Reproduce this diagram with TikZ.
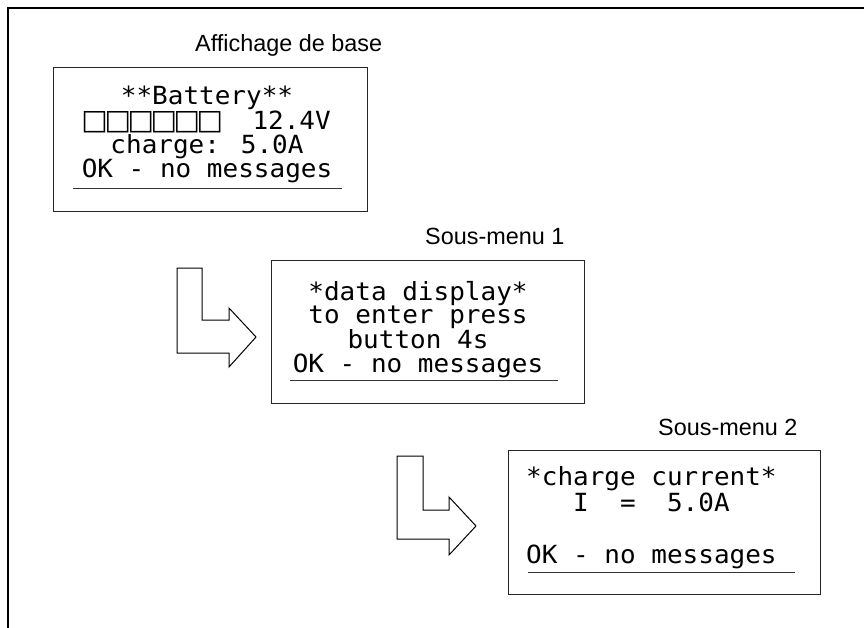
\documentclass[tikz,border=0pt]{standalone}
\usepackage{fontspec}
\setmainfont{Liberation Sans}
\newfontfamily\lcdfont[FakeStretch=1.04]{DejaVu Sans Mono}
\newfontfamily\symfont{DejaVu Sans}
\newcommand{\sqbox}{\makebox[23pt][c]{\symfont\fontsize{28}{28}\selectfont □}}
\tikzset{
  lcd/.style={font=\lcdfont\fontsize{25}{#1}\selectfont, inner sep=0pt},
  lbl/.style={font=\fontsize{23.4}{24}\selectfont, inner sep=0pt, anchor=base west},
  screen/.style={draw=black!85, line width=1pt, rectangle, inner sep=0pt, anchor=north west},
  uline/.style={draw=black!80, line width=0.9pt},
  turn/.style={draw=black, line width=1pt, fill=white, line join=miter},
  framel/.style={draw=black, line width=2pt}
}
\begin{document}
\begin{tikzpicture}[x=1pt,y=-1pt]
\useasboundingbox (0,0) rectangle (864,628);
% outer frame (top and left)
\draw[framel] (8,628) -- (8,8) -- (864,8);

% labels
\node[lbl] (lab1) at (195,52) {Affichage de base};
\node[lbl] (lab2) at (425,245) {Sous-menu 1};
\node[lbl] (lab3) at (658,435) {Sous-menu 2};

% screens
\node[screen, minimum width=314pt, minimum height=144pt] (s1) at (53,67) {};
\node[screen, minimum width=313pt, minimum height=143pt] (s2) at (271,260) {};
\node[screen, minimum width=312pt, minimum height=144pt] (s3) at (508,450) {};

% screen 1 text (anchor = baseline of last line)
\node[lcd=23.7, align=center, anchor=base] (t1) at (207,178)
  {**Battery**\\\sqbox\sqbox\sqbox\sqbox\sqbox\sqbox~~12.4V\\charge: 5.0A\\OK - no messages};
\draw[uline] (73,188) -- (342,188);

% screen 2 text
\node[lcd=23.3, align=center, anchor=base] (t2) at (418,372)
  {*data display*\\to enter press\\button 4s\\OK - no messages};
\draw[uline] (290,380) -- (558,380);

% screen 3 text
\node[lcd=26, align=left, anchor=base west] (t3) at (526,563)
  {*charge current*\\~~~I~~=~~5.0A\\\mbox{}\\OK - no messages};
\draw[uline] (528,572) -- (795,572);

% turn arrows
\draw[turn] (177,268) -- (202,268) -- (202,320) -- (229,320) -- (229,308)
  -- (256,337) -- (229,367) -- (229,353) -- (177,353) -- cycle;
\draw[turn] (397,456) -- (423,456) -- (423,510) -- (449,510) -- (449,497)
  -- (476,526) -- (449,555) -- (449,539) -- (397,539) -- cycle;
\end{tikzpicture}
\end{document}
